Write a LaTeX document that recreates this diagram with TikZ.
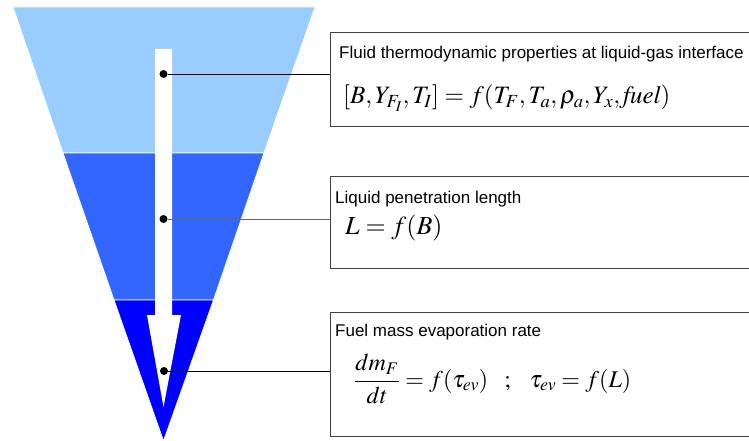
\documentclass[tikz,border=0pt]{standalone}
\usepackage{mathptmx}
\usepackage{amsmath}
\usepackage{fontspec}
\setsansfont{Liberation Sans}
\usepackage{tikz}

\definecolor{topblue}{RGB}{153,204,255}
\definecolor{midblue}{RGB}{51,102,255}
\definecolor{lowblue}{RGB}{0,0,255}

\begin{document}
\begin{tikzpicture}
 [x=1pt,y=-1pt,
  band/.style={draw=white, line width=0.8pt},
  info box/.style={draw=black!75, line width=1pt, anchor=north west, minimum width=430pt, inner sep=0pt},
  title text/.style={anchor=base west, inner sep=0pt, font=\sffamily\fontsize{17}{19}\selectfont},
  eq text/.style={anchor=base west, inner sep=0pt, font=\fontsize{25}{29}\selectfont},
  dot/.style={circle, fill=black, inner sep=0pt, minimum size=8pt}]

\useasboundingbox (0,0) rectangle (749,441);

% the cone, three bands
\path[band, fill=topblue] (13,7) -- (315,7) -- (264,153) -- (63,153) -- cycle;
\path[band, fill=midblue] (63,153) -- (264,153) -- (213.5,300) -- (114,300) -- cycle;
\path[band, fill=lowblue] (114,300) -- (213.5,300) -- (163.5,441) -- cycle;

% arrow down the cone
\fill[white] (155,49) -- (172,49) -- (172,315) -- (181,315) -- (163.5,407)
   -- (147,315) -- (155,315) -- cycle;

\node[dot] (d1) at (163.5,74) {};
\node[dot] (d2) at (163.5,219) {};
\node[dot] (d3) at (164,371) {};

\node[info box, minimum height=94pt] (box1) at (330,32) {};
\node[info box, minimum height=92pt] (box2) at (330,176) {};
\node[info box, minimum height=124pt] (box3) at (330,312) {};

\node[title text] (t1) at (339,59) {Fluid thermodynamic properties at liquid-gas interface};
\node[eq text] (e1) at (343,104) {$[B,Y_{F_I},T_I] = f(T_F,T_a,\rho_a,Y_x,\mathit{fuel})$};

\node[title text] (t2) at (335,203) {Liquid penetration length};
\node[eq text, font=\fontsize{26}{30}\selectfont] (e2) at (345,234) {$L = f(B)$};

\node[title text] (t3) at (335,336) {Fuel mass evaporation rate};
\node[eq text, font=\fontsize{24}{28}\selectfont] (e3) at (354,387)
  {$\dfrac{dm_F}{dt} = f(\tau_{ev})\;\;\;;\;\;\;\tau_{ev} = f(L)$};

\path
  (d1) edge [black, thick] (d1 -| box1.west)
  (d2) edge [black!60, thick] (d2 -| box2.west)
  (d3) edge [black, thick] (d3 -| box3.west);

\end{tikzpicture}
\end{document}
